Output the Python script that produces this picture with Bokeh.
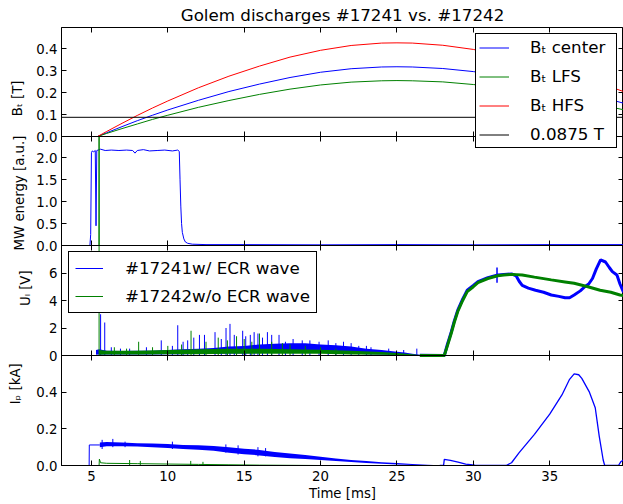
import math
from bokeh.plotting import figure
from bokeh.layouts import row
from bokeh.models import (Range1d, LinearAxis, FixedTicker, PrintfTickFormatter,
                          Legend, LegendItem)
from bokeh.core.properties import value
from bokeh.embed import file_html
from bokeh.resources import INLINE

# ---------------- data ----------------
X_START, X_END = 3.04, 39.83
X_TICKS = [5, 10, 15, 20, 25, 30, 35]

# Panel 1: toroidal field B_t [T]
t_bt = [3.04, 5.4, 6, 7, 8, 9, 10, 12, 14, 16, 18, 20, 22, 24, 25, 26, 28, 30, 32, 34, 36, 38, 39.83]
bt_center = [0, 0, 0.017, 0.045, 0.072, 0.097, 0.121, 0.165, 0.205, 0.239, 0.269, 0.293, 0.309, 0.317,
             0.318, 0.317, 0.310, 0.296, 0.275, 0.250, 0.219, 0.186, 0.152]
bt_lfs = [0, 0, 0.014, 0.036, 0.057, 0.078, 0.097, 0.133, 0.164, 0.192, 0.216, 0.235, 0.248, 0.254,
          0.255, 0.254, 0.249, 0.237, 0.221, 0.200, 0.176, 0.149, 0.122]
bt_hfs = [0, 0, 0.023, 0.060, 0.096, 0.130, 0.162, 0.222, 0.275, 0.321, 0.362, 0.393, 0.415, 0.426,
          0.427, 0.426, 0.416, 0.397, 0.369, 0.335, 0.295, 0.250, 0.205]
t_ecr = [X_START, X_END]
b_ecr = [0.0875, 0.0875]

# Panel 2: MW energy [a.u.]
t_mw_a = [3.04, 4.90, 4.95, 5.00, 5.05, 5.15, 5.25, 5.30, 5.35, 5.6, 5.9, 6.3, 6.8, 7.3, 7.7, 7.85,
          8.0, 8.4, 8.8, 9.3, 9.8, 10.3, 10.65, 10.75, 10.8, 10.85, 10.9, 10.95, 11.05, 11.15, 11.3,
          11.6, 12.5, 15, 20, 25, 30, 35, 39.83]
mw_a = [0, 0, 0.25, 2.12, 2.16, 2.14, 2.17, 0.45, 2.17, 2.20, 2.17, 2.18, 2.17, 2.18, 2.17, 2.11,
        2.17, 2.19, 2.16, 2.17, 2.18, 2.16, 2.18, 2.15, 1.5, 0.9, 0.5, 0.3, 0.15, 0.08, 0.05,
        0.03, 0.02, 0.02, 0.015, 0.02, 0.015, 0.02, 0.02]
t_mw_b = [3.04, 5.49, 5.5, 5.51, 39.83]
mw_b = [0, 0, 2.49, 0, 0]

# Panel 3: loop voltage U_l [V]
t_ul_a = [5.3, 5.5, 6, 7, 8, 9, 10, 11, 12, 13, 14, 15, 16, 17, 18, 19, 20, 21, 22, 23, 24, 25,
          25.5, 26, 26.5]
ul_a_lo = [0.05, 0.08, 0.08, 0.08, 0.08, 0.08, 0.1, 0.1, 0.12, 0.12, 0.15, 0.15, 0.18, 0.2, 0.2,
           0.2, 0.2, 0.18, 0.15, 0.1, 0.08, 0.05, 0.03, 0.02, 0.0]
ul_a_hi = [0.4, 0.45, 0.35, 0.32, 0.35, 0.35, 0.4, 0.45, 0.5, 0.55, 0.65, 0.7, 0.8, 0.85, 0.9,
           0.9, 0.8, 0.75, 0.65, 0.5, 0.4, 0.28, 0.22, 0.12, 0.05]
ul_a_spk_t = [5.6, 5.87, 6.3, 6.9, 7.5, 8.6, 9.57, 10.3, 10.65, 11.0, 11.3, 11.7, 12.07, 12.4, 13.09,
              13.5, 13.81, 14.07, 14.35, 14.9, 15.1, 15.4, 15.65, 15.9, 16.2, 16.52, 16.8, 17.28,
              17.7, 18.2, 18.8, 19.3, 19.9, 20.5, 21.0, 21.5, 22.0, 22.5, 23.0, 23.3, 24.46, 25.44,
              26.3]
ul_a_spk_v = [3.0, 2.4, 0.6, 0.5, 0.5, 0.6, 1.1, 0.7, 2.2, 1.0, 1.1, 1.3, 1.5, 1.5, 1.7, 1.2, 2.0,
              2.3, 1.5, 1.8, 1.4, 1.5, 1.7, 1.6, 1.3, 1.7, 1.5, 1.5, 1.0, 1.2, 1.1, 1.1, 1.0, 1.1,
              0.9, 1.0, 0.9, 0.7, 0.7, 0.6, 0.5, 0.4, 0.5]
t_ul_a2 = [26.5, 28.1, 28.3, 28.55, 28.75, 28.98, 29.3, 29.6, 30.0, 30.3, 30.95, 31.6, 32.0, 32.5,
           32.8, 33.0, 33.2, 33.6, 34.07, 34.6, 35.1, 35.6, 36.0, 36.3, 36.6, 37.0, 37.3, 37.55,
           37.8, 38.05, 38.33, 38.65, 38.9, 39.1, 39.4, 39.6, 39.83]
ul_a2 = [0.02, 0.0, 0.8, 1.7, 2.5, 3.3, 4.1, 4.75, 5.1, 5.37, 5.66, 5.85, 5.9, 5.93, 5.8, 5.4, 5.1,
         4.9, 4.75, 4.6, 4.4, 4.3, 4.2, 4.2, 4.4, 4.7, 5.0, 5.2, 5.6, 6.3, 6.95, 6.8, 6.4, 6.1,
         5.85, 5.2, 4.6]
ul_a2_spk_t = [31.55]
ul_a2_spk_lo = [5.3]
ul_a2_spk_hi = [6.4]
t_ul_b = [5.5, 6, 8, 10, 12, 14, 16, 18, 20, 22, 24, 25, 26, 26.5]
ul_b_lo = [0.05, 0.08, 0.08, 0.1, 0.1, 0.12, 0.12, 0.12, 0.12, 0.08, 0.05, 0.03, 0.02, 0.0]
ul_b_hi = [0.4, 0.35, 0.35, 0.4, 0.45, 0.5, 0.5, 0.45, 0.42, 0.35, 0.25, 0.18, 0.1, 0.03]
ul_b_spk_t = [5.5, 6.5, 7.3, 8.09, 9.0, 10.0, 10.9, 11.52, 12.5, 13.3, 13.9, 14.5, 15.0, 15.5, 16.0,
              16.8, 17.5, 18.0, 19.0, 20.0, 21.0]
ul_b_spk_v = [8.0, 0.6, 0.5, 1.0, 0.6, 0.7, 0.8, 1.8, 1.0, 1.3, 1.1, 1.4, 1.2, 1.0, 1.6, 1.0, 0.9,
              0.8, 0.7, 0.6, 0.5]
t_ul_b2 = [26.5, 28.1, 28.3, 28.55, 28.75, 28.98, 29.3, 29.6, 30.0, 30.3, 30.95, 31.6, 32.0, 32.5,
           33.2, 34.0, 35.1, 36.0, 36.6, 37.5, 38.3, 39.0, 39.6, 39.83]
ul_b2 = [0, 0, 0.7, 1.6, 2.4, 3.2, 4.0, 4.65, 5.0, 5.3, 5.6, 5.8, 5.85, 5.9, 5.85, 5.7, 5.5, 5.35,
         5.25, 5.0, 4.75, 4.6, 4.4, 4.35]

# Panel 4: plasma current I_p [kA]
t_ip_a = [3.04, 4.85, 4.86, 5.55]
ip_a = [0, 0, 0.112, 0.112]
t_ip_band = [5.55, 6, 7, 8, 9, 10, 11, 12, 13, 14, 15, 16, 17, 18, 19, 20, 21, 22, 23, 24, 25, 26,
             27, 27.8]
ip_lo = [0.10, 0.105, 0.105, 0.103, 0.10, 0.095, 0.09, 0.086, 0.08, 0.07, 0.062, 0.055, 0.047,
         0.04, 0.035, 0.03, 0.024, 0.019, 0.014, 0.01, 0.006, 0.003, 0.001, 0.0]
ip_hi = [0.125, 0.128, 0.125, 0.122, 0.12, 0.117, 0.112, 0.11, 0.106, 0.1, 0.092, 0.085, 0.074,
         0.065, 0.057, 0.048, 0.038, 0.03, 0.024, 0.018, 0.013, 0.008, 0.004, 0.001]
ip_spk_t = [5.7, 6.4, 7.2, 10.3, 13.8, 14.6, 15.9, 16.4]
ip_spk_lo = [0.09, 0.1, 0.1, 0.09, 0.07, 0.06, 0.05, 0.05]
ip_spk_hi = [0.14, 0.145, 0.13, 0.13, 0.115, 0.11, 0.1, 0.095]
t_ip_b = [27.8, 28.05, 28.1, 28.5, 29.0, 29.5, 30.1, 32.15, 32.5, 33.0, 34.0, 35.0, 35.8, 36.3, 36.6,
          36.9, 37.1, 37.6, 37.98, 38.24, 38.5, 38.6, 39.5, 39.65, 39.83]
ip_b = [0, 0, 0.033, 0.028, 0.018, 0.008, 0.002, 0.0, 0.015, 0.07, 0.17, 0.28, 0.385, 0.47, 0.5,
        0.495, 0.475, 0.40, 0.315, 0.16, 0.03, 0.0, 0.0, 0.02, 0.03]
t_ip_g = [3.04, 5.5, 5.52, 5.6, 6, 8, 10, 12, 14, 16, 18, 20, 39.83]
ip_g = [0, 0, 0.035, 0.015, 0.012, 0.01, 0.008, 0.006, 0.004, 0.002, 0.001, 0.0, 0.0]
ip_g_spk_t = [7.5, 8.2, 11.5, 12.3]
ip_g_spk_v = [0.03, 0.025, 0.025, 0.02]

# ---------------- layout & styling ----------------
FONT = "DejaVu Sans"
BLUE, GREEN, RED, BLACK = "#0000ff", "#008000", "#ff0000", "#000000"
W, H = 623, 504
W_LAB = 33                               # strip that holds the rotated y labels
M_LEFT, M_TOP, M_BOTTOM = 59, 27, 39
FRAME_H = H - M_TOP - M_BOTTOM          # 438 px
TICK_FS = "13.3px"
BIG_FS = "16.7px"

# stacked panels: (name, pixel band from frame bottom, y top, ticks, format, y label, label x)
PANELS = [
    ("p1", 329, 438, 0.497, [0, 0.1, 0.2, 0.3, 0.4], "%.1f", "Bₜ [T]", 17),
    ("p2", 220, 329, 2.49, [0, 0.5, 1.0, 1.5, 2.0], "%.1f", "MW energy [a.u.]", 19),
    ("p3", 110, 220, 8.0, [0, 2, 4, 6, 8], "%d", "Uₗ [V]", 24.5),
    ("p4", 0, 110, 0.6, [0, 0.2, 0.4, 0.6], "%.1f", "Iₚ [kA]", 15),
]

p = figure(width=W - W_LAB, height=H, x_range=Range1d(X_START, X_END), y_range=Range1d(0, FRAME_H),
           output_backend="svg", toolbar_location=None, x_axis_location="below",
           y_axis_location="left", min_border_left=M_LEFT - W_LAB, min_border_right=0,
           min_border_top=M_TOP, min_border_bottom=M_BOTTOM,
           title="Golem discharges #17241 vs. #17242")
p.grid.visible = False
p.outline_line_color = BLACK
p.outline_line_alpha = 1
p.outline_line_width = 1
p.background_fill_color = "white"
p.border_fill_color = "white"
p.title.text_font = FONT
p.title.text_font_size = BIG_FS
p.title.text_font_style = "normal"
p.title.text_color = BLACK
p.title.align = "center"
p.title.standoff = 5
p.title.offset = 0


def style_axis(ax, labels=True, tin=5, tout=0):
    ax.axis_line_color = BLACK
    ax.major_tick_line_color = BLACK
    ax.major_tick_in = tin
    ax.major_tick_out = tout
    ax.minor_tick_line_color = None
    ax.major_label_text_font = FONT
    ax.major_label_text_font_size = TICK_FS
    ax.major_label_text_color = BLACK
    ax.major_label_standoff = 4
    ax.axis_label_text_font = FONT
    ax.axis_label_text_font_size = TICK_FS
    ax.axis_label_text_font_style = "normal"
    ax.axis_label_text_color = BLACK
    if not labels:
        ax.major_label_text_color = None
        ax.major_label_text_font_size = "0px"


# bottom time axis with labels
xa = p.xaxis[0]
xa.ticker = FixedTicker(ticks=X_TICKS)
xa.formatter = PrintfTickFormatter(format="%d")
style_axis(xa)
xa.major_label_standoff = 5
xa.axis_label = "Time [ms]"
xa.axis_label_standoff = 2

# one left axis carries the tick labels of all four panels
left_pos, left_txt = [], {}
for name, lo, hi, top, ticks, fmt, lab, lab_x in PANELS:
    scale = top / (hi - lo)
    p.extra_y_ranges[name] = Range1d(-lo * scale, top + (FRAME_H - hi) * scale)
    for tv in ticks:
        pos = round(lo + tv / scale, 3)
        if pos not in left_txt:
            left_pos.append(pos)
            left_txt[pos] = fmt % tv
    ra = LinearAxis(y_range_name=name, fixed_location=X_END, bounds=(0, top),
                    ticker=FixedTicker(ticks=ticks))
    style_axis(ra, labels=False)
    p.add_layout(ra, "right")
    sep = LinearAxis(fixed_location=hi, ticker=FixedTicker(ticks=X_TICKS))
    style_axis(sep, labels=False, tin=(5 if hi < FRAME_H else 0), tout=5)
    p.add_layout(sep, "below")

ya = p.yaxis[0]
ya.ticker = FixedTicker(ticks=left_pos)
ya.major_label_overrides = left_txt
style_axis(ya)

# Panel 1
r_c = p.line(t_bt, bt_center, color=BLUE, line_width=1, y_range_name="p1")
r_l = p.line(t_bt, bt_lfs, color=GREEN, line_width=1, y_range_name="p1")
r_h = p.line(t_bt, bt_hfs, color=RED, line_width=1, y_range_name="p1")
r_e = p.line(t_ecr, b_ecr, color=BLACK, line_width=1, y_range_name="p1")

# Panel 2
p.line(t_mw_a, mw_a, color=BLUE, line_width=1, y_range_name="p2")
p.line(t_mw_b, mw_b, color=GREEN, line_width=1, y_range_name="p2")

# Panel 3
p.varea(x=t_ul_a, y1=ul_a_lo, y2=ul_a_hi, fill_color=BLUE, y_range_name="p3")
r_ua = p.segment(x0=ul_a_spk_t, y0=[0] * len(ul_a_spk_t), x1=ul_a_spk_t, y1=ul_a_spk_v,
                 color=BLUE, line_width=1, y_range_name="p3")
p.segment(x0=ul_a2_spk_t, y0=ul_a2_spk_lo, x1=ul_a2_spk_t, y1=ul_a2_spk_hi, color=BLUE,
          line_width=1.5, y_range_name="p3")
p.line(t_ul_a2, ul_a2, color=BLUE, line_width=3, y_range_name="p3")
p.varea(x=t_ul_b, y1=ul_b_lo, y2=ul_b_hi, fill_color=GREEN, y_range_name="p3")
r_ub = p.segment(x0=ul_b_spk_t, y0=[0] * len(ul_b_spk_t), x1=ul_b_spk_t, y1=ul_b_spk_v,
                 color=GREEN, line_width=1, y_range_name="p3")
p.line(t_ul_b2, ul_b2, color=GREEN, line_width=3, y_range_name="p3")

# Panel 4
p.line(t_ip_a, ip_a, color=BLUE, line_width=1, y_range_name="p4")
p.varea(x=t_ip_band, y1=ip_lo, y2=ip_hi, fill_color=BLUE, y_range_name="p4")
p.segment(x0=ip_spk_t, y0=ip_spk_lo, x1=ip_spk_t, y1=ip_spk_hi, color=BLUE, line_width=1,
          y_range_name="p4")
p.line(t_ip_b, ip_b, color=BLUE, line_width=1.3, y_range_name="p4")
p.line(t_ip_g, ip_g, color=GREEN, line_width=1, y_range_name="p4")
p.segment(x0=ip_g_spk_t, y0=[0] * len(ip_g_spk_t), x1=ip_g_spk_t, y1=ip_g_spk_v,
          color=GREEN, line_width=1, y_range_name="p4")

# Legends
leg1 = Legend(items=[LegendItem(label="Bₜ center", renderers=[r_c]),
                     LegendItem(label="Bₜ LFS", renderers=[r_l]),
                     LegendItem(label="Bₜ HFS", renderers=[r_h]),
                     LegendItem(label="0.0875 T", renderers=[r_e])],
              location="top_right", margin=6, padding=3, spacing=9,
              label_height=17, glyph_height=17, glyph_width=30, label_standoff=21,
              label_width=83)
leg3 = Legend(items=[LegendItem(label="#17241w/ ECR wave", renderers=[r_ua]),
                     LegendItem(label="#17242w/o ECR wave", renderers=[r_ub])],
              location=(7, 152), padding=6, spacing=8,
              label_height=20, glyph_height=20, glyph_width=28, label_standoff=22)
for lg in (leg1, leg3):
    lg.label_text_font = FONT
    lg.label_text_font_size = BIG_FS
    lg.label_text_color = BLACK
    lg.border_line_color = BLACK
    lg.border_line_width = 1
    lg.border_line_alpha = 1
    lg.background_fill_color = "white"
    lg.background_fill_alpha = 1
    p.add_layout(lg)

# strip with the rotated y-axis titles (one per panel)
lab_x = [pp[7] for pp in PANELS]
lab_y = [M_BOTTOM + (pp[1] + pp[2]) / 2 for pp in PANELS]
lab_t = [pp[6] for pp in PANELS]
q = figure(width=W_LAB, height=H, x_range=Range1d(0, W_LAB), y_range=Range1d(0, H),
           output_backend="svg", toolbar_location=None, x_axis_location=None,
           y_axis_location=None, min_border=0)
q.grid.visible = False
q.outline_line_color = None
q.background_fill_color = "white"
q.border_fill_color = "white"
q.text(x=lab_x, y=lab_y, text=lab_t, angle=math.pi / 2, text_align="center",
       text_baseline="middle", text_font=value(FONT), text_font_size=value(TICK_FS),
       text_color=BLACK)

layout = row(q, p, spacing=0)
open("out.html", "w").write(file_html(layout, INLINE))
